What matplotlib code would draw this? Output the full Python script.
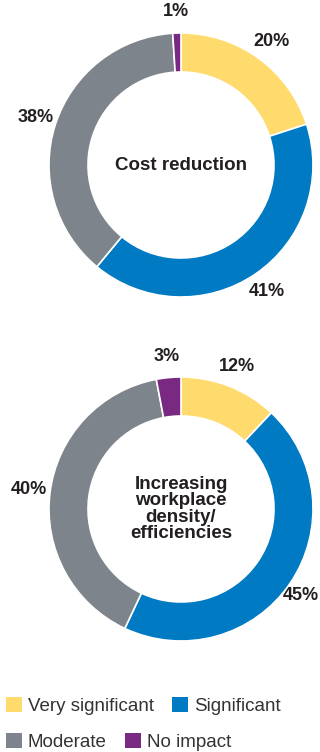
import numpy as np
import matplotlib.pyplot as plt
from matplotlib.patches import Patch

plt.rcParams["font.family"] = ["Liberation Sans", "DejaVu Sans"]

categories = ["Very significant", "Significant", "Moderate", "No impact"]
colors = ["#FFDB6E", "#007AC2", "#7D848B", "#7A2982"]

cost_reduction = [20, 41, 38, 1]
density = [12, 45, 40, 3]

charts = [
    ("Cost reduction", cost_reduction, (181, 587)),
    ("Increasing\nworkplace\ndensity/\nefficiencies", density, (181, 243)),
]

W, H = 320, 752
fig = plt.figure(figsize=(W / 100, H / 100), dpi=100)
ax = fig.add_axes([0, 0, 1, 1])

radius = 132
ring = 39
text_color = "#231F20"

for title, values, center in charts:
    ax.pie(values, colors=colors, startangle=90, counterclock=False,
           center=center, radius=radius,
           wedgeprops=dict(width=ring, edgecolor="white", linewidth=1.2))

    # percentage labels sit outside the ring at the wedge mid-angle
    vals = np.array(values, dtype=float)
    ends = np.cumsum(vals) / vals.sum() * 360
    mids = 90 - (ends - vals / vals.sum() * 180)
    for v, a in zip(values, np.deg2rad(mids)):
        x = center[0] + 1.16 * radius * np.cos(a)
        y = center[1] + 1.16 * radius * np.sin(a)
        ha = "center"
        if x > W - 20:  # keep it inside the figure
            x, ha = W - 1, "right"
        ax.text(x, y, f"{v}%", ha=ha, va="center",
                fontsize=13, fontweight="bold", color=text_color)

    ax.text(center[0], center[1], title, ha="center", va="center",
            fontsize=13.5, fontweight="bold", color=text_color,
            linespacing=0.97)

ax.set_xlim(0, W)
ax.set_ylim(0, H)
ax.set_aspect("equal")
ax.axis("off")

handles = [Patch(facecolor=c, edgecolor="none") for c in colors]
rows = [(handles[:2], categories[:2], 706), (handles[2:], categories[2:], 742)]
for hs, labs, y in rows:
    fig.legend(hs, labs, loc="center left", bbox_to_anchor=(6 / W, 1 - y / H),
               ncol=2, frameon=False, fontsize=13.5, labelcolor="#333333",
               handlelength=0.85, handleheight=0.85, handletextpad=0.3,
               columnspacing=1.0, borderpad=0, borderaxespad=0)

fig.savefig("out.png", dpi=100)
